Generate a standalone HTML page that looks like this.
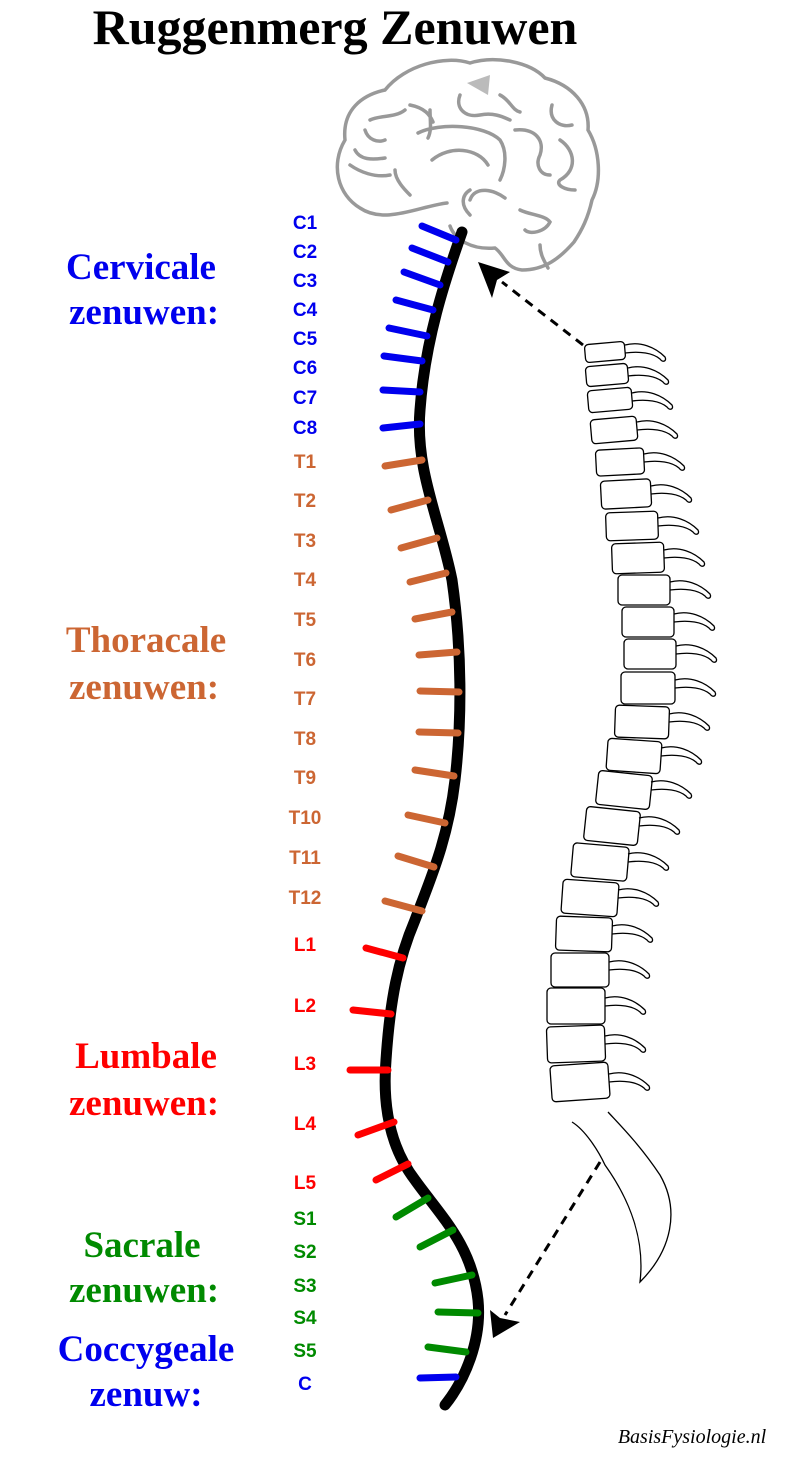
<!DOCTYPE html>
<html><head><meta charset="utf-8"><style>
body{margin:0;background:#fff;}
svg{display:block}
.t{font-family:"Liberation Serif",serif;font-weight:bold;}
.l{font-family:"Liberation Sans",sans-serif;font-weight:bold;font-size:19px;text-anchor:middle}
</style></head><body>
<svg width="787" height="1460" viewBox="0 0 787 1460" xmlns="http://www.w3.org/2000/svg">
<defs><path id="sp" d="M0,0 C15,-4 30,2 40,12 C42,16 38,18 35,14 C28,8 15,6 0,8" fill="none" stroke="#000" stroke-width="1.3"/></defs>
<text x="335" y="44" class="t" font-size="50" text-anchor="middle">Ruggenmerg Zenuwen</text>
<!-- brain -->
<g fill="none" stroke="#999" stroke-width="3.5" stroke-linecap="round">
<path d="M447,203 C420,206 385,225 360,208 C338,195 330,165 345,140 C342,110 362,95 385,90 C405,65 445,55 470,63 C495,55 530,62 545,78 C572,85 590,105 588,130 C600,150 602,180 592,200 C588,218 582,230 574,242 C560,258 545,270 522,270 C505,268 505,255 495,248 C472,250 455,240 450,226"/>
<path d="M418,133 C440,122 485,125 500,140 C508,152 505,170 500,180"/>
<path d="M432,160 C450,145 478,148 488,165"/>
<path d="M410,105 C425,108 430,115 433,122 M430,110 C430,120 432,130 428,138"/>
<path d="M370,120 C380,115 395,118 405,110 M365,130 C368,140 378,143 385,140"/>
<path d="M355,150 C360,160 372,160 385,158 M350,165 C360,172 375,178 390,175 M395,170 C395,180 405,190 410,195"/>
<path d="M460,95 C455,108 465,118 480,115 C495,112 505,118 510,120 M500,95 C510,100 512,110 520,112"/>
<path d="M515,130 C535,128 545,140 540,155 C535,165 540,175 550,175 M552,105 C548,120 560,128 572,125 M560,140 C575,150 578,170 560,180 C555,185 565,190 575,190"/>
<path d="M470,200 C475,185 495,190 505,198 M470,215 C460,205 462,195 470,190 M520,210 C530,215 545,215 550,222 C545,232 530,235 525,230 M540,245 C540,255 545,262 548,268"/>
</g>
<path d="M467,83 L490,75 L488,95 Z" fill="#bbb"/>
<!-- cord -->
<path d="M462,232 C445,280 425,340 420,410 C415,470 440,520 452,580 C462,650 462,720 455,780 C448,840 430,880 415,920 C398,960 390,1000 386,1060 C382,1110 392,1150 415,1180 C440,1215 472,1245 478,1300 C482,1340 465,1380 445,1405" fill="none" stroke="#000" stroke-width="11" stroke-linecap="round"/>
<!-- nerves -->
<g stroke-width="7" stroke-linecap="round" fill="none">
<g stroke="#0000ee">
<line x1="422" y1="226" x2="456" y2="240"/><line x1="412" y1="248" x2="448" y2="262"/><line x1="404" y1="272" x2="440" y2="285"/><line x1="396" y1="300" x2="433" y2="310"/><line x1="389" y1="328" x2="427" y2="336"/><line x1="384" y1="356" x2="422" y2="361"/><line x1="383" y1="390" x2="420" y2="392"/><line x1="383" y1="428" x2="420" y2="424"/>
<line x1="420" y1="1378" x2="456" y2="1377"/>
</g>
<g stroke="#cc6633">
<line x1="385" y1="466" x2="422" y2="460"/><line x1="391" y1="510" x2="428" y2="500"/><line x1="401" y1="548" x2="437" y2="538"/><line x1="410" y1="582" x2="446" y2="573"/><line x1="415" y1="619" x2="452" y2="612"/><line x1="419" y1="655" x2="457" y2="652"/><line x1="420" y1="691" x2="459" y2="692"/><line x1="419" y1="732" x2="458" y2="733"/><line x1="415" y1="770" x2="454" y2="776"/><line x1="408" y1="815" x2="445" y2="823"/><line x1="398" y1="856" x2="434" y2="867"/><line x1="385" y1="901" x2="422" y2="911"/>
</g>
<g stroke="#ff0000">
<line x1="366" y1="948" x2="403" y2="958"/><line x1="353" y1="1010" x2="391" y2="1014"/><line x1="350" y1="1070" x2="388" y2="1070"/><line x1="358" y1="1135" x2="394" y2="1122"/><line x1="376" y1="1180" x2="408" y2="1164"/>
</g>
<g stroke="#008a00">
<line x1="396" y1="1217" x2="428" y2="1198"/><line x1="420" y1="1247" x2="453" y2="1230"/><line x1="435" y1="1283" x2="472" y2="1275"/><line x1="438" y1="1312" x2="478" y2="1313"/><line x1="428" y1="1347" x2="466" y2="1352"/>
</g>
</g>
<!-- labels -->
<g class="l">
<g fill="#0000ee"><text x="305" y="229">C1</text><text x="305" y="258">C2</text><text x="305" y="287">C3</text><text x="305" y="316">C4</text><text x="305" y="345">C5</text><text x="305" y="374">C6</text><text x="305" y="404">C7</text><text x="305" y="434">C8</text><text x="305" y="1390">C</text></g>
<g fill="#cc6633"><text x="305" y="468">T1</text><text x="305" y="507">T2</text><text x="305" y="547">T3</text><text x="305" y="586">T4</text><text x="305" y="626">T5</text><text x="305" y="666">T6</text><text x="305" y="705">T7</text><text x="305" y="745">T8</text><text x="305" y="784">T9</text><text x="305" y="824">T10</text><text x="305" y="864">T11</text><text x="305" y="904">T12</text></g>
<g fill="#ff0000"><text x="305" y="951">L1</text><text x="305" y="1012">L2</text><text x="305" y="1070">L3</text><text x="305" y="1130">L4</text><text x="305" y="1189">L5</text></g>
<g fill="#008a00"><text x="305" y="1225">S1</text><text x="305" y="1258">S2</text><text x="305" y="1292">S3</text><text x="305" y="1324">S4</text><text x="305" y="1357">S5</text></g>
</g>
<g class="t" font-size="37" text-anchor="middle">
<g fill="#0000ee"><text x="141" y="279">Cervicale</text><text x="144" y="324">zenuwen:</text><text x="146" y="1361">Coccygeale</text><text x="146" y="1406">zenuw:</text></g>
<g fill="#cc6633"><text x="146" y="652">Thoracale</text><text x="144" y="699">zenuwen:</text></g>
<g fill="#ff0000"><text x="146" y="1068">Lumbale</text><text x="144" y="1115">zenuwen:</text></g>
<g fill="#008a00"><text x="142" y="1257">Sacrale</text><text x="144" y="1302">zenuwen:</text></g>
</g>
<!-- vertebral column -->
<g fill="#fff" stroke="#000" stroke-width="1.3">
<rect x="585" y="343" width="40" height="18" rx="4" transform="rotate(-5 605 352)"/>
<rect x="586" y="365" width="42" height="20" rx="4" transform="rotate(-5 607 375)"/>
<rect x="588" y="389" width="44" height="22" rx="4" transform="rotate(-5 610 400)"/>
<rect x="591" y="418" width="46" height="24" rx="4" transform="rotate(-5 614 430)"/>
<rect x="596" y="449" width="48" height="26" rx="4" transform="rotate(-3 620 462)"/>
<rect x="601" y="480" width="50" height="28" rx="4" transform="rotate(-3 626 494)"/>
<rect x="606" y="512" width="52" height="28" rx="4" transform="rotate(-2 632 526)"/>
<rect x="612" y="543" width="52" height="30" rx="4" transform="rotate(-2 638 558)"/>
<rect x="618" y="575" width="52" height="30" rx="4"/>
<rect x="622" y="607" width="52" height="30" rx="4"/>
<rect x="624" y="639" width="52" height="30" rx="4"/>
<rect x="621" y="672" width="54" height="32" rx="4"/>
<rect x="615" y="706" width="54" height="32" rx="4" transform="rotate(2 642 722)"/>
<rect x="607" y="740" width="54" height="32" rx="4" transform="rotate(4 634 756)"/>
<rect x="597" y="773" width="54" height="34" rx="4" transform="rotate(6 624 790)"/>
<rect x="585" y="809" width="54" height="34" rx="4" transform="rotate(6 612 826)"/>
<rect x="572" y="845" width="56" height="34" rx="4" transform="rotate(5 600 862)"/>
<rect x="562" y="881" width="56" height="34" rx="4" transform="rotate(4 590 898)"/>
<rect x="556" y="917" width="56" height="34" rx="4" transform="rotate(2 584 934)"/>
<rect x="551" y="953" width="58" height="34" rx="4"/>
<rect x="547" y="988" width="58" height="36" rx="4"/>
<rect x="547" y="1026" width="58" height="36" rx="4" transform="rotate(-2 576 1044)"/>
<rect x="551" y="1064" width="58" height="36" rx="4" transform="rotate(-4 580 1082)"/>
</g>
<g>
<use href="#sp" x="625" y="345"/><use href="#sp" x="628" y="368"/><use href="#sp" x="632" y="393"/><use href="#sp" x="637" y="422"/><use href="#sp" x="644" y="454"/><use href="#sp" x="651" y="486"/><use href="#sp" x="658" y="518"/><use href="#sp" x="664" y="550"/><use href="#sp" x="670" y="582"/><use href="#sp" x="674" y="614"/><use href="#sp" x="676" y="646"/><use href="#sp" x="675" y="680"/><use href="#sp" x="669" y="714"/><use href="#sp" x="661" y="748"/><use href="#sp" x="651" y="782"/><use href="#sp" x="639" y="818"/><use href="#sp" x="628" y="854"/><use href="#sp" x="618" y="890"/><use href="#sp" x="612" y="926"/><use href="#sp" x="609" y="962"/><use href="#sp" x="605" y="998"/><use href="#sp" x="605" y="1036"/><use href="#sp" x="609" y="1074"/>
</g>
<path d="M572,1122 C585,1130 598,1150 605,1165 C630,1200 645,1240 640,1282 C672,1250 680,1210 660,1175 C640,1145 620,1125 608,1112" fill="none" stroke="#000" stroke-width="1.3"/>
<!-- arrows -->
<g stroke="#000" stroke-width="3" stroke-dasharray="9,7" fill="none">
<line x1="583" y1="345" x2="502" y2="282"/>
<line x1="600" y1="1162" x2="505" y2="1315"/>
</g>
<path d="M478,262 L510,272 L497,280 L492,298 Z" fill="#000"/>
<path d="M493,1338 L490,1310 L500,1318 L520,1322 Z" fill="#000"/>
<text x="692" y="1443" font-family="Liberation Serif,serif" font-style="italic" font-size="20" text-anchor="middle">BasisFysiologie.nl</text>
</svg>
</body></html>
